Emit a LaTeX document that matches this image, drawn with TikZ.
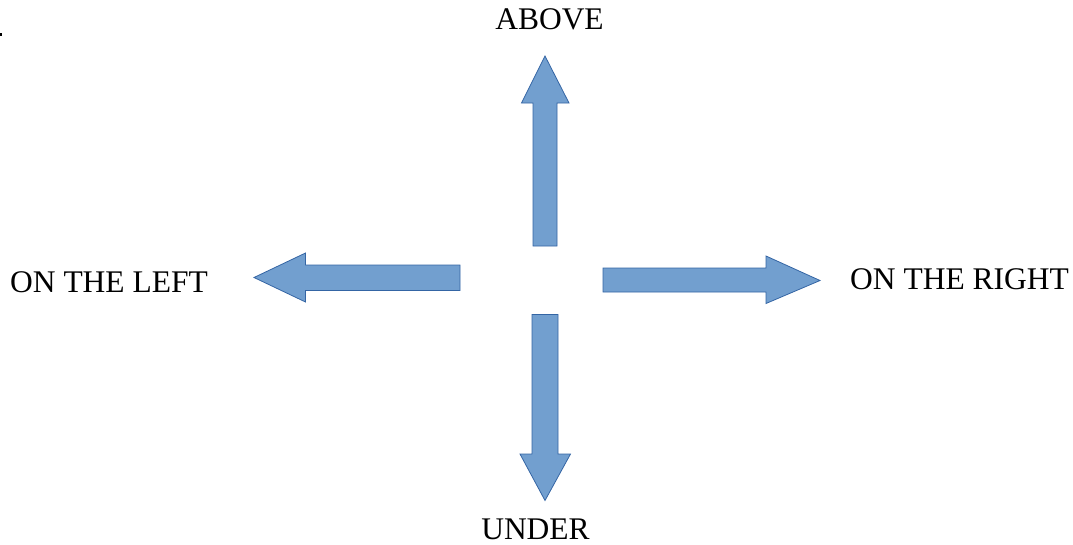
\documentclass[tikz,border=0pt]{standalone}
\usepackage{fontspec}
\setmainfont{Liberation Serif}
\usepackage{xcolor}
\usetikzlibrary{positioning}

\definecolor{arrowfill}{HTML}{729FCF}
\definecolor{arrowline}{HTML}{3465A4}

\tikzset{
    blockarrow/.style={fill=arrowfill, draw=arrowline, line width=0.8pt, line join=miter},
    dirlabel/.style={inner sep=0pt, font=\fontsize{31.5}{36}\selectfont}
}

\begin{document}
\begin{tikzpicture}[x=1pt, y=-1pt]
    \useasboundingbox (0,0) rectangle (1073,544);

    % Mũi tên lên trên
    \draw[blockarrow] (533,246) -- (533,103) -- (521.5,103) -- (545,56)
        -- (569,103) -- (557,103) -- (557,246) -- cycle;
    % Mũi tên sang trái
    \draw[blockarrow] (460,265) -- (305.5,265) -- (305.5,253) -- (254,277.5)
        -- (305.5,302) -- (305.5,290.5) -- (460,290.5) -- cycle;
    % Mũi tên sang phải
    \draw[blockarrow] (603,268) -- (766,268) -- (766,256) -- (820,280.5)
        -- (766,303.5) -- (766,292) -- (603,292) -- cycle;
    % Mũi tên xuống dưới
    \draw[blockarrow] (532,314.5) -- (558,314.5) -- (558,454) -- (570.5,454)
        -- (545,500.5) -- (520,454) -- (532,454) -- cycle;

    % Nhãn
    \node[dirlabel] (above) at (549.5,19) {ABOVE};
    \node[dirlabel] (left) at (109,282) {ON THE LEFT};
    \node[dirlabel] (right) at (959.5,279) {ON THE RIGHT};
    \node[dirlabel] (under) at (535.5,529.5) {UNDER};

    % Dấu nhỏ ở góc
    \fill (0,33) rectangle (2,36);
\end{tikzpicture}
\end{document}
